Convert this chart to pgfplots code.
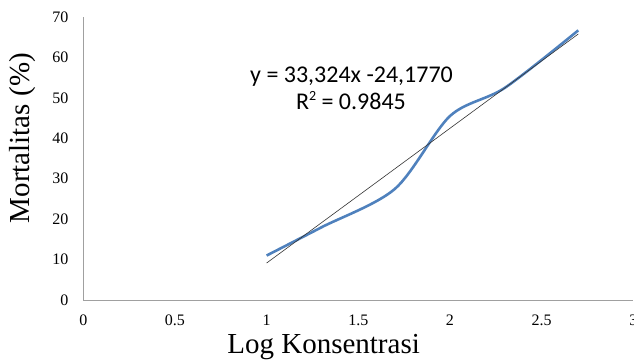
\documentclass[border=0pt]{standalone}
\usepackage{pgfplots}
\pgfplotsset{compat=1.18}
\usepackage{fontspec}
\setmainfont{Liberation Serif}
\newfontfamily\calibri{Carlito}
\definecolor{serblue}{RGB}{79,129,189}
\definecolor{axgray}{RGB}{160,160,160}
\begin{document}
\begin{tikzpicture}[x=1pt,y=1pt]
\useasboundingbox (-83.3,-59) rectangle (550.7,300);
\begin{axis}[
  at={(0,0)}, anchor=south west,
  scale only axis, width=550pt, height=283pt,
  xmin=0, xmax=3, ymin=0, ymax=70,
  axis x line=bottom, axis y line=left,
  axis line style={axgray, line width=0.9pt, -},
  xtick={0,0.5,1,1.5,2,2.5,3},
  xticklabels={0,0.5,1,1.5,2,2.5,3},
  ytick={0,10,20,30,40,50,60,70},
  major tick length=0pt,
  /pgf/number format/assume math mode=true,
  tick label style={font=\fontsize{16}{18}\selectfont, black},
  xticklabel style={yshift=-11pt},
  yticklabel style={xshift=-11.5pt},
  xlabel={Log Konsentrasi},
  ylabel={Mortalitas (\%)},
  every axis x label/.style={at={(rel axis cs:0.437,0)}, yshift=-53pt, anchor=base, font=\fontsize{29}{32}\selectfont},
  every axis y label/.style={at={(rel axis cs:0,0.572)}, xshift=-61pt, rotate=90, anchor=center, font=\fontsize{29}{32}\selectfont},
  clip=false,
]
\addplot[serblue, line width=2.6pt, smooth, tension=0.5] coordinates {
  (1,11) (1.3,18) (1.7,27.5) (2,45.5) (2.3,52.5) (2.7,66.7)
};
\addplot[black!80, line width=0.6pt] coordinates {
  (1,9.147) (2.7,65.798)
};
\node[font=\calibri\fontsize{24}{26}\selectfont, anchor=base] at (axis cs:1.463,53.9) {y = 33,324x -24,1770};
\node[font=\calibri\fontsize{24}{26}\selectfont, anchor=base] at (axis cs:1.46,47.0) {R\raisebox{9pt}{\fontsize{14}{14}\selectfont 2} = 0.9845};
\end{axis}
\end{tikzpicture}
\end{document}
